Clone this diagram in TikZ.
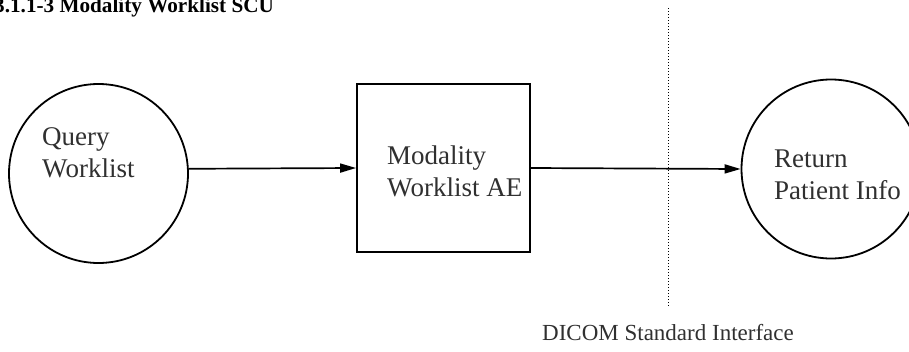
\documentclass[tikz,border=0pt]{standalone}
\usepackage{fontspec}
\setmainfont{Liberation Serif}
\usetikzlibrary{arrows.meta}
\definecolor{txt}{HTML}{303030}
\tikzset{
  x=1pt, y=-1pt,
  proc/.style={circle, draw=black, line width=1.8pt, minimum size=179pt, inner sep=0pt},
  ae/.style={rectangle, draw=black, line width=1.8pt, minimum width=173pt, minimum height=168pt, inner sep=0pt},
  lbl/.style={anchor=base west, inner sep=0pt, font=\fontsize{27}{32}\selectfont, text=txt},
  arr/.style={-{Triangle[length=16pt,width=9pt]}, line width=1.7pt},
}
\begin{document}
\begin{tikzpicture}
\useasboundingbox (0,0) rectangle (909,351);
\clip (0,0) rectangle (909,351);
\node[anchor=base west, inner sep=0pt, font=\bfseries\fontsize{21.2}{24}\selectfont] (title) at (-6,12.5) {3.1.1-3 Modality Worklist SCU};
\node[proc] (qw) at (98.5,173.5) {};
\node[ae] (mw) at (443.5,168) {};
\node[proc] (rp) at (831,169) {};
\node[lbl] (qw1) at (42,145) {Query};
\node[lbl] (qw2) at (42,177) {Worklist};
\node[lbl] (mw1) at (387,164) {Modality};
\node[lbl] (mw2) at (387,196) {Worklist AE};
\node[lbl] (rp1) at (774,167) {Return};
\node[lbl] (rp2) at (774,199) {Patient Info};
\coordinate (dtop) at (668,8);
\coordinate (dbot) at (668,307);
\draw[dotted, line width=1pt] (dtop) -- (dbot);
\node[anchor=base, inner sep=0pt, font=\fontsize{23}{28}\selectfont, text=txt] (dicom) at (668,340) {DICOM Standard Interface};
\draw[arr] (qw.3.5) -- (mw.west);
\draw[arr] (mw.east) -- (rp.west);
\end{tikzpicture}
\end{document}
